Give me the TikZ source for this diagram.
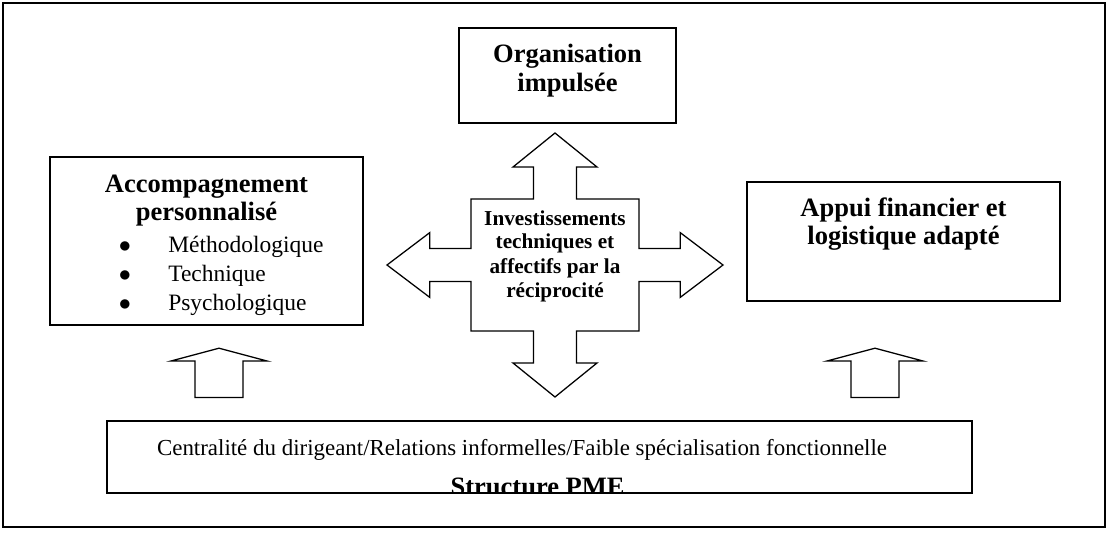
\documentclass[tikz,border=0pt]{standalone}
\usepackage{fontspec}
\setmainfont{Liberation Serif}
\usepackage{tikz}
\usetikzlibrary{positioning}

\tikzset{
  box/.style={draw, rectangle, line width=1.2pt, inner sep=0pt},
  titletext/.style={font=\fontsize{18.85}{20.6}\selectfont\bfseries, anchor=base, inner sep=0pt},
  itemtext/.style={font=\fontsize{16.7}{20}\selectfont, anchor=base west, inner sep=0pt},
  crosstext/.style={font=\fontsize{15.1}{17.1}\selectfont\bfseries, anchor=base, inner sep=0pt},
  blockarrow/.style={draw, line width=0.9pt, fill=white, line join=miter}
}

\begin{document}
\begin{tikzpicture}
    \useasboundingbox (0,0) rectangle (27.725,13.325);

    % Outer frame
    \draw[line width=1.2pt] (0.075,0.15) rectangle (27.625,13.25);

    % Boxes
    \node[box, minimum width=5.425cm, minimum height=2.375cm] (org) at (14.1875,11.4375) {};
    \node[box, minimum width=7.825cm, minimum height=4.2cm] (accomp) at (5.1625,7.3) {};
    \node[box, minimum width=7.825cm, minimum height=2.975cm] (appui) at (22.5875,7.2875) {};
    \node[box, minimum width=21.625cm, minimum height=1.8cm] (pme) at (13.4875,1.9) {};

    % Titles
    \node[titletext] (org1) at (14.1875,11.75) {Organisation};
    \node[titletext] (org2) at (14.1875,11.025) {impulsée};
    \node[titletext] (acc1) at (5.1625,8.5) {Accompagnement};
    \node[titletext] (acc2) at (5.1625,7.8) {personnalisé};
    \node[titletext] (app1) at (22.5875,7.9) {Appui financier et};
    \node[titletext] (app2) at (22.5875,7.2) {logistique adapté};

    % Bullet list
    \foreach \t/\y [count=\i] in {Méthodologique/7.025, Technique/6.3, Psychologique/5.575} {
      \node[itemtext, anchor=base] (dot\i) at (3.125,\y) {$\bullet$};
      \node[itemtext] (item\i) at (4.2,\y) {\t};
    }

    % Central cross arrow
    \begin{scope}[shift={(13.875,6.7)}]
      \draw[blockarrow] (0,3.3) -- (1.05,2.45) -- (0.54,2.45) -- (0.54,1.65) -- (2.1,1.65)
        -- (2.1,0.41) -- (3.13,0.41) -- (3.13,0.81) -- (4.2,0) -- (3.13,-0.81) -- (3.13,-0.41)
        -- (2.1,-0.41) -- (2.1,-1.65) -- (0.54,-1.65) -- (0.54,-2.45) -- (1.05,-2.45) -- (0,-3.3)
        -- (-1.05,-2.45) -- (-0.54,-2.45) -- (-0.54,-1.65) -- (-2.1,-1.65) -- (-2.1,-0.41)
        -- (-3.13,-0.41) -- (-3.13,-0.81) -- (-4.2,0) -- (-3.13,0.81) -- (-3.13,0.41) -- (-2.1,0.41)
        -- (-2.1,1.65) -- (-0.54,1.65) -- (-0.54,2.45) -- (-1.05,2.45) -- cycle;
    \end{scope}
    \foreach \t/\y [count=\i] in {Investissements/7.7, techniques et/7.1, affectifs par la/6.5, réciprocité/5.9} {
      \node[crosstext] (inv\i) at (13.875,\y) {\t};
    }

    % Small up arrows
    \foreach \ax in {5.475, 21.875} {
      \draw[blockarrow] (\ax-0.6,3.39) -- (\ax+0.6,3.39) -- (\ax+0.6,4.3) -- (\ax+1.2,4.3)
        -- (\ax,4.62) -- (\ax-1.2,4.3) -- (\ax-0.6,4.3) -- cycle;
    }

    % Bottom box text
    \node[itemtext, anchor=base, font=\fontsize{16.3}{20}\selectfont] (pme1) at (13.05,1.95) {Centralité du dirigeant/Relations informelles/Faible spécialisation fonctionnelle};
    \begin{scope}
      \clip (pme.south west) rectangle (pme.north east);
      \node[titletext] (pme2) at (13.44,0.93) {Structure PME};
    \end{scope}
\end{tikzpicture}
\end{document}
